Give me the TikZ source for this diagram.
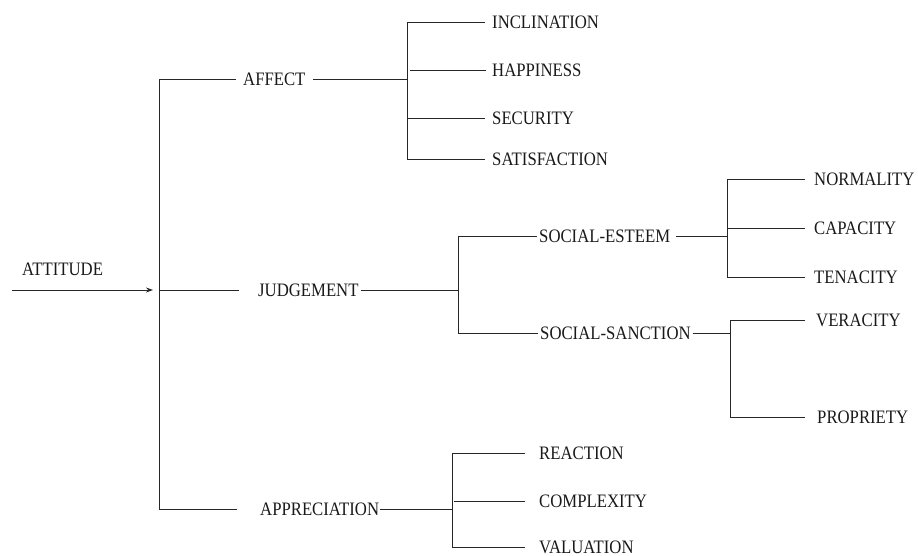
\documentclass[tikz,border=0pt]{standalone}
\usepackage{fontspec}
\setmainfont[FakeStretch=0.88]{Liberation Serif}
\usetikzlibrary{arrows.meta}
\tikzset{
  lbl/.style={anchor=west, inner sep=0pt, text height=12.6pt, text depth=0pt,
    font=\fontsize{19}{22}\selectfont, text=black!90},
  lien/.style={line width=0.9pt, draw=black!85},
}
\begin{document}
\begin{tikzpicture}[x=1pt,y=-1pt]
  \useasboundingbox (0,0) rectangle (918,556);

  % Tronc principal
  \coordinate (in) at (12,290);
  \coordinate (mJ) at (159,290);
  \coordinate (mB) at (159,509);

  % Étiquettes du premier niveau
  \node[lbl] (attitude) at (22,269) {ATTITUDE};
  \node[lbl] (affect) at (243,79) {AFFECT};
  \node[lbl] (judgement) at (258,290) {JUDGEMENT};
  \node[lbl] (appreciation) at (260,509) {APPRECIATION};

  % Étiquettes de l'affect
  \node[lbl] (inclination) at (492,22) {INCLINATION};
  \node[lbl] (happiness) at (492,70) {HAPPINESS};
  \node[lbl] (security) at (492,118) {SECURITY};
  \node[lbl] (satisfaction) at (492,159) {SATISFACTION};

  % Étiquettes du jugement
  \node[lbl] (esteem) at (539,236) {SOCIAL-ESTEEM};
  \node[lbl] (sanction) at (540,333) {SOCIAL-SANCTION};
  \node[lbl] (normality) at (814,179) {NORMALITY};
  \node[lbl] (capacity) at (814,228) {CAPACITY};
  \node[lbl] (tenacity) at (814,277) {TENACITY};
  \node[lbl] (veracity) at (816,320) {VERACITY};
  \node[lbl] (propriety) at (817,417) {PROPRIETY};

  % Étiquettes de l'appréciation
  \node[lbl] (reaction) at (539,453) {REACTION};
  \node[lbl] (complexity) at (539,501) {COMPLEXITY};
  \node[lbl] (valuation) at (539,547) {VALUATION};

  % Jonctions
  \coordinate (aJ) at (407,79);
  \coordinate (aB) at (407,159);
  \coordinate (jJ) at (458,290);
  \coordinate (jB) at (458,333);
  \coordinate (eJ) at (727,236);
  \coordinate (eB) at (727,277);
  \coordinate (sJ) at (730,333);
  \coordinate (sB) at (730,417);
  \coordinate (pJ) at (452,509);
  \coordinate (pB) at (452,547);

  % Flèche d'entrée et tronc
  \draw[lien, -{Stealth[length=7pt,width=5pt]}] (in) -- ([xshift=-6pt]mJ);
  \draw[lien] ([xshift=-7pt]affect.west) -| (mB) -- ([xshift=-23pt]appreciation.west);
  \draw[lien] (mJ) -- ([xshift=-19pt]judgement.west);

  % Affect
  \draw[lien] ([xshift=7pt]affect.east) -- (aJ);
  \draw[lien] ([xshift=-7pt]inclination.west) -| (aB) -- ([xshift=-7pt]satisfaction.west);
  \draw[lien, shorten <=3pt] (aJ |- happiness.west) -- ([xshift=-6pt]happiness.west);
  \draw[lien] (aJ |- security.west) -- ([xshift=-7pt]security.west);

  % Jugement
  \draw[lien] ([xshift=2pt]judgement.east) -- (jJ);
  \draw[lien] ([xshift=-2pt]esteem.west) -| (jB) -- ([xshift=-2pt]sanction.west);

  % Estime sociale
  \draw[lien] ([xshift=6pt]esteem.east) -- (eJ);
  \draw[lien] ([xshift=-9pt]normality.west) -| (eB) -- ([xshift=-9pt]tenacity.west);
  \draw[lien] (eJ |- capacity.west) -- ([xshift=-9pt]capacity.west);

  % Sanction sociale
  \draw[lien] ([xshift=2pt]sanction.east) -- (sJ);
  \draw[lien] ([xshift=-11pt]veracity.west) -| (sB) -- ([xshift=-12pt]propriety.west);

  % Appréciation
  \draw[lien] ([xshift=1pt]appreciation.east) -- (pJ);
  \draw[lien] ([xshift=-14pt]reaction.west) -| (pB) -- ([xshift=-14pt]valuation.west);
  \draw[lien, shorten <=2pt] (pJ |- complexity.west) -- ([xshift=-14pt]complexity.west);
\end{tikzpicture}
\end{document}
